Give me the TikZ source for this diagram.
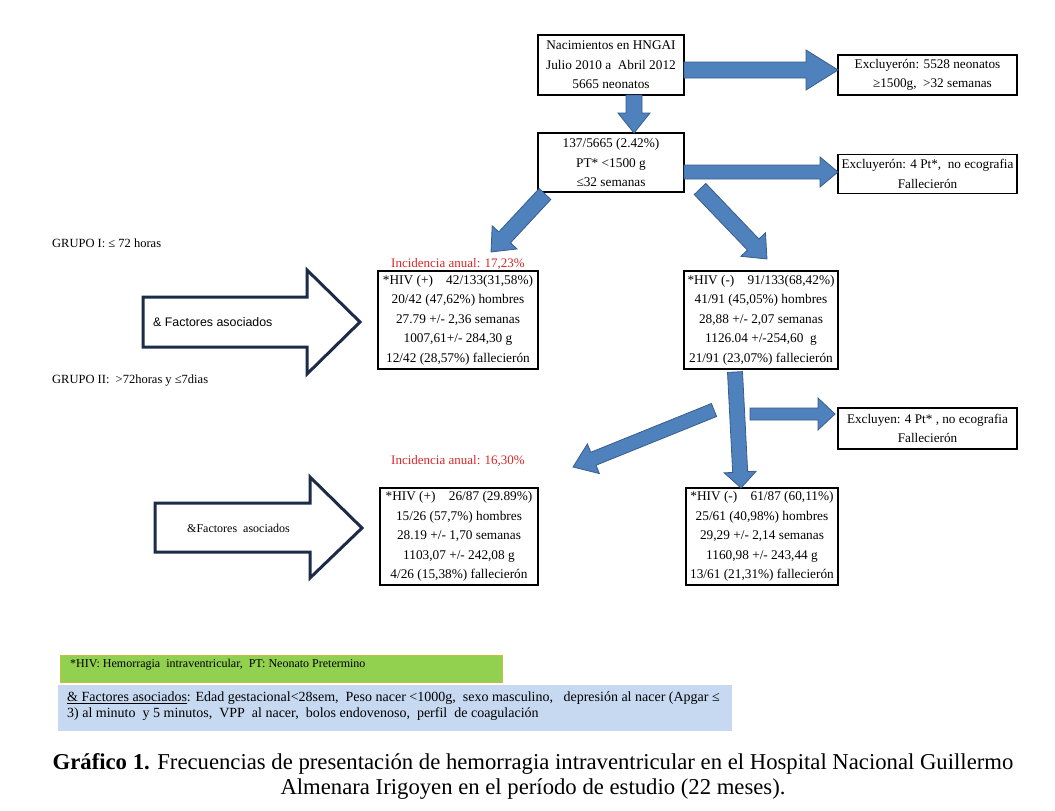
\documentclass[tikz,border=0pt]{standalone}
\usepackage{fontspec}
\setmainfont{Liberation Serif}
\newfontfamily\arialf{Liberation Sans}
\usetikzlibrary{calc}
\definecolor{arrowfill}{RGB}{79,129,189}
\definecolor{arrowline}{RGB}{56,93,138}
\definecolor{navyline}{RGB}{28,44,72}
\definecolor{redtxt}{RGB}{214,40,40}
\definecolor{legendgreen}{RGB}{146,208,80}
\definecolor{legendgreenline}{RGB}{200,190,60}
\definecolor{legendblue}{RGB}{198,217,241}
\newcommand{\blockarrow}[5]{%
  \path ($(#2)!#5!(#1)$) coordinate (bh);
  \draw[barrow] ($(#1)!#3!90:(#2)$) -- ($(bh)!#3!90:(#2)$) -- ($(bh)!#4!90:(#2)$) -- (#2)
    -- ($(bh)!#4!-90:(#2)$) -- ($(bh)!#3!-90:(#2)$) -- ($(#1)!#3!-90:(#2)$) -- cycle;}
\begin{document}
\begin{tikzpicture}[x=1pt,y=-1pt,
  box/.style={draw=black, line width=1.8pt, inner sep=0pt, align=center, font=\fontsize{13.3}{19.6}\selectfont},
  exbox/.style={draw=black, line width=1.1pt, inner sep=0pt, align=center, font=\fontsize{13.2}{19.6}\selectfont},
  barrow/.style={fill=arrowfill, draw=arrowline, line width=0.8pt, line join=miter},
  outarrow/.style={draw=navyline, line width=3pt, fill=white, line join=miter},
  redlbl/.style={text=redtxt, font=\fontsize{13}{14}\selectfont},
  grp/.style={anchor=west, font=\fontsize{12.5}{14}\selectfont, inner sep=0pt},
]
\useasboundingbox (0,0) rectangle (1055,811);
\fill[white] (0,0) rectangle (1055,811);

% top boxes
\node[box, minimum width=146pt, minimum height=60pt] (b1) at (611,65) {Nacimientos en HNGAI\\Julio 2010 a\ \ Abril 2012\\5665 neonatos};
\node[exbox, minimum width=179pt, minimum height=40pt] (x1) at (927.5,75) {Excluyerón: 5528 neonatos\\\ \ \ ≥1500g,\ \ >32 semanas};
\node[box, minimum width=146pt, minimum height=59pt] (b2) at (611,162.5) {137/5665 (2.42\%)\\PT* <1500 g\\≤32 semanas};
\node[exbox, minimum width=179pt, minimum height=39pt] (x2) at (927.5,174) {Excluyerón: 4 Pt*,\ \ no ecografia\\Fallecierón};

% group I boxes
\node[box, minimum width=160pt, minimum height=98pt] (p1) at (458,320) {*HIV (+)\ \ \ \ 42/133(31,58\%)\\20/42 (47,62\%) hombres\\27.79 +/- 2,36 semanas\\1007,61+/- 284,30 g\\12/42 (28,57\%) fallecierón};
\node[box, minimum width=154pt, minimum height=98pt] (n1) at (761,320) {*HIV (-)\ \ \ \ 91/133(68,42\%)\\41/91 (45,05\%) hombres\\28,88 +/- 2,07 semanas\\1126.04 +/-254,60\ \ g\\21/91 (23,07\%) fallecierón};
\node[redlbl] (r1) at (458,264) {Incidencia anual: 17,23\%};

% group II boxes
\node[box, minimum width=158pt, minimum height=97pt] (p2) at (459,536.5) {*HIV (+)\ \ \ \ 26/87 (29.89\%)\\15/26 (57,7\%) hombres\\28.19 +/- 1,70 semanas\\1103,07 +/- 242,08 g\\4/26 (15,38\%) fallecierón};
\node[box, minimum width=152pt, minimum height=97pt] (n2) at (762,536.5) {*HIV (-)\ \ \ \ 61/87 (60,11\%)\\25/61 (40,98\%) hombres\\29,29 +/- 2,14 semanas\\1160,98 +/- 243,44 g\\13/61 (21,31\%) fallecierón};
\node[redlbl] (r2) at (458,461) {Incidencia anual: 16,30\%};
\node[exbox, minimum width=179pt, minimum height=41pt] (x3) at (927.5,428.5) {Excluyen: 4 Pt* , no ecografia\\Fallecierón};

% group labels
\node[grp] (g1) at (52,243) {GRUPO I: ≤ 72 horas};
\node[grp] (g2) at (52,381) {GRUPO II:\ \ >72horas y ≤7dias};

% outline arrows
\draw[outarrow] (143,297) coordinate (o1a) -- (307,297) -- (307,270) -- (360,322) coordinate (o1t) -- (307,374) -- (307,347) -- (143,347) -- cycle;
\node[anchor=west, font=\arialf\fontsize{12.4}{14}\selectfont, inner sep=0pt] (f1) at (153,322) {\& Factores asociados};
\draw[outarrow] (155,503) coordinate (o2a) -- (310,503) -- (310,477) -- (362,528) coordinate (o2t) -- (310,578) -- (310,552) -- (155,552) -- cycle;
\node[anchor=west, font=\fontsize{12}{14}\selectfont, inner sep=0pt] (f2) at (187,528) {\&Factores\ \ asociados};

% block arrow endpoints
\coordinate (a1s) at (684,70);  \coordinate (a1e) at (838,70);
\coordinate (a2s) at (634,95);  \coordinate (a2e) at (634,133);
\coordinate (a3s) at (684,172); \coordinate (a3e) at (838,172);
\coordinate (a4s) at (545,194); \coordinate (a4e) at (491,252);
\coordinate (a5s) at (700,189); \coordinate (a5e) at (767,259);
\coordinate (a6s) at (735,372); \coordinate (a6e) at (741,488);
\coordinate (a7s) at (714,410); \coordinate (a7e) at (573,467);
\coordinate (a8s) at (750,414); \coordinate (a8e) at (835,414);

\blockarrow{a1s}{a1e}{8pt}{20pt}{32pt}
\blockarrow{a2s}{a2e}{8pt}{16pt}{20pt}
\blockarrow{a3s}{a3e}{7pt}{15pt}{18pt}
\blockarrow{a4s}{a4e}{8pt}{17pt}{20pt}
\blockarrow{a5s}{a5e}{8pt}{17pt}{20pt}
\blockarrow{a6s}{a6e}{7.5pt}{16pt}{16pt}
\blockarrow{a7s}{a7e}{7pt}{16pt}{22pt}
\blockarrow{a8s}{a8e}{6pt}{16pt}{17pt}

% legends
\draw[fill=legendgreen, draw=legendgreenline, line width=0.8pt] (60,655) rectangle (502,682);
\node[anchor=west, font=\fontsize{12}{13}\selectfont, inner sep=0pt] (lg) at (70,665) {*HIV: Hemorragia\ \ intraventricular,\ \ PT: Neonato Pretermino};
\fill[legendblue] (58,685) rectangle (732,731);
\node[anchor=north west, align=left, font=\fontsize{14}{16}\selectfont, inner sep=0pt] (lb) at (67,692) {\underline{\& Factores asociados}: Edad gestacional<28sem,\ \ Peso nacer <1000g,\ \ sexo masculino,\ \ \ depresión al nacer (Apgar ≤\\3) al minuto\ \ y 5 minutos,\ \ VPP\ \ al nacer,\ \ bolos endovenoso,\ \ perfil\ \ de coagulación};

% caption
\node[align=center, font=\fontsize{22.7}{25}\selectfont, inner sep=0pt] (cap) at (533,776) {\textbf{Gráfico 1.} Frecuencias de presentación de hemorragia intraventricular en el Hospital Nacional Guillermo\\Almenara Irigoyen en el período de estudio (22 meses).};
\end{tikzpicture}
\end{document}
